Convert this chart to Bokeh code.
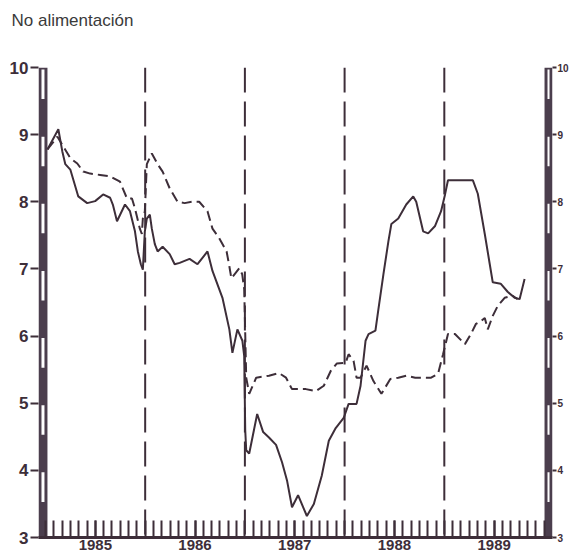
from bokeh.plotting import figure
from bokeh.models import Range1d, FixedTicker, LinearAxis, Span, Title
from bokeh.embed import file_html
from bokeh.resources import INLINE

# ---------------- data ----------------
titulo = "No alimentación"
anios = ["1985", "1986", "1987", "1988", "1989"]
y_ticks = [3, 4, 5, 6, 7, 8, 9, 10]

# month index counted from January 1985
mes_solida = [0.24, 1.55, 2.03, 2.39, 2.99, 3.95, 5.02, 5.98, 6.94, 7.78, 8.13, 8.61,
              9.57, 10.17, 10.77, 11.12, 11.48, 11.72, 11.96, 12.2, 12.56, 12.8, 13.16,
              13.5, 14.1, 14.95, 15.55, 16.15, 17.34, 18.3, 19.5, 20.1, 21.3, 22.13,
              22.5, 23.1, 23.7, 23.92, 24.04, 24.16, 24.52, 25.48, 26.2, 26.9, 27.75,
              28.47, 29.07, 29.67, 30.4, 31.46, 32.3, 33.25, 34.1, 34.93, 35.89, 36.48,
              37.44, 37.92, 38.52, 38.88, 39.71, 40.07, 40.67, 41.27, 41.63, 42.46,
              43.42, 44.26, 44.62, 45.45, 46.05, 46.89, 47.61, 48.09, 48.44, 51.44,
              52.03, 52.87, 53.47, 53.83, 54.78, 55.62, 56.46, 57.06, 57.66]
valor_solida = [8.78, 9.08, 8.75, 8.56, 8.48, 8.08, 7.98, 8.01, 8.11, 8.06, 7.95, 7.71,
                7.96, 7.86, 7.56, 7.26, 7.07, 6.99, 7.56, 7.75, 7.81, 7.6, 7.37,
                7.26, 7.33, 7.22, 7.07, 7.09, 7.15, 7.07, 7.26, 6.97, 6.57, 6.1,
                5.75, 6.1, 5.93, 5.7, 4.6, 4.3, 4.25, 4.84, 4.57, 4.49, 4.38,
                4.12, 3.85, 3.45, 3.63, 3.32, 3.5, 3.92, 4.44, 4.63, 4.78, 4.99,
                4.99, 5.26, 5.93, 6.03, 6.08, 6.4, 6.92, 7.41, 7.67, 7.75,
                7.96, 8.08, 8.0, 7.56, 7.53, 7.64, 7.86, 8.11, 8.32, 8.32,
                8.12, 7.52, 7.07, 6.8, 6.78, 6.66, 6.57, 6.55, 6.85]

mes_discontinua = [0.24, 1.44, 2.99, 3.83, 4.55, 5.38, 6.58, 7.78, 8.97, 9.81, 10.41,
                   10.77, 11.36, 11.6, 11.72, 11.96, 12.2, 12.8, 13.5, 14.1, 14.95,
                   15.9, 16.75, 17.6, 18.5, 19.5, 20.1, 20.9, 21.8, 22.13, 22.37,
                   23.33, 23.68, 23.92, 24.16, 24.52, 25.36, 26.9, 28.1, 28.95, 29.67,
                   31.34, 32.54, 33.5, 34.33, 35.05, 36.12, 36.48, 37.08, 37.44, 37.92,
                   38.64, 39.47, 40.43, 41.5, 42.46, 43.42, 44.5, 46.41, 47.25, 47.85,
                   48.44, 49.28, 50.48, 51.2, 51.8, 52.39, 52.87, 53.23, 53.83, 54.43,
                   55.26, 56.22, 56.82]
valor_discontinua = [8.78, 8.97, 8.65, 8.57, 8.45, 8.42, 8.4, 8.38, 8.3, 8.05, 8.05,
                     7.9, 7.6, 7.52, 7.75, 7.86, 8.56, 8.72, 8.56, 8.45, 8.2,
                     8.0, 7.98, 8.0, 8.0, 7.86, 7.6, 7.46, 7.26, 7.04, 6.86,
                     7.01, 6.92, 6.7, 5.38, 5.14, 5.38, 5.41, 5.45, 5.38, 5.21,
                     5.21, 5.18, 5.26, 5.48, 5.59, 5.6, 5.73, 5.63, 5.38, 5.38,
                     5.56, 5.33, 5.14, 5.36, 5.38, 5.41, 5.38, 5.38, 5.44, 5.73,
                     6.03, 6.03, 5.88, 6.03, 6.18, 6.22, 6.27, 6.1, 6.3, 6.45,
                     6.57, 6.6, 6.55]

# ---------------- layout / style ----------------
W, H = 571, 557
PX_MES = 8.358          # pixels per month
LINEA = "#3d2e39"
BARRA = "#4b3e4d"
NUM_FONT = "Liberation Sans"

FR_L, FR_T = 38, 67     # frame position on the canvas
FR_W, FR_H = 517, 470   # frame size (both ruler bars included)
PX_UNI = FR_H / (y_ticks[-1] - y_ticks[0])
x0 = -7 / PX_MES
x1 = x0 + FR_W / PX_MES
meses_total = 12 * len(anios)

p = figure(width=W, height=H, output_backend="svg", toolbar_location=None,
           x_range=Range1d(x0, x1), y_range=Range1d(y_ticks[0], y_ticks[-1]),
           min_border_left=FR_L, min_border_right=W - FR_L - FR_W,
           min_border_top=FR_T, min_border_bottom=H - FR_T - FR_H,
           background_fill_color="white", border_fill_color="white")
p.outline_line_color = None
p.grid.visible = False

# title: blank extra lines lift it well above the frame
p.add_layout(Title(text=titulo + "\n\u00a0\n\u00a0", align="left", offset=-27,
                   text_font="Liberation Sans", text_font_style="normal",
                   text_font_size="17px", text_color="#3a3a3a",
                   text_line_height=0.85), "above")

# ruler bars on both sides
bar_l_left, bar_l_right = x0, 0.24
bar_r_left, bar_r_right = meses_total + 0.06, x1
ins_x = 3 / PX_MES
ins_y = 2 / PX_UNI
for bl, br in [(bar_l_left, bar_l_right), (bar_r_left, bar_r_right)]:
    p.quad(left=[bl], right=[br], bottom=[y_ticks[0]], top=[y_ticks[-1]],
           fill_color=BARRA, line_color=None)
    tops = [k - ins_y for k in y_ticks[1:]]
    bots = [k - 0.5 + ins_y for k in y_ticks[1:]]
    p.quad(left=[bl + ins_x] * len(tops), right=[br - ins_x] * len(tops),
           bottom=bots, top=tops, fill_color="white", line_color=None)

# year separators
for i in range(1, len(anios)):
    p.add_layout(Span(location=12 * i, dimension="height", line_color=LINEA,
                      line_width=2, line_dash="25 9"))

# series
p.line(mes_discontinua, valor_discontinua, line_color=LINEA, line_width=2,
       line_dash="10 5")
p.line(mes_solida, valor_solida, line_color=LINEA, line_width=2)

# left axis
ya = p.yaxis[0]
ya.ticker = FixedTicker(ticks=y_ticks, minor_ticks=[])
ya.axis_line_color = None
ya.major_tick_in = 0
ya.major_tick_out = 8
ya.major_tick_line_width = 2
ya.major_tick_line_color = LINEA
ya.major_label_standoff = 2
ya.major_label_text_font = NUM_FONT
ya.major_label_text_font_style = "bold"
ya.major_label_text_font_size = "17px"
ya.major_label_text_color = LINEA

# right axis
ra = LinearAxis(ticker=FixedTicker(ticks=y_ticks, minor_ticks=[]))
ra.axis_line_color = None
ra.major_tick_in = 0
ra.major_tick_out = 4
ra.major_tick_line_width = 2
ra.major_tick_line_color = LINEA
ra.major_label_standoff = 1
ra.major_label_text_font = NUM_FONT
ra.major_label_text_font_style = "bold"
ra.major_label_text_font_size = "10px"
ra.major_label_text_color = LINEA
p.add_layout(ra, "right")

# bottom axis: year names centred in each year, a tick for every month
mitad = [12 * i + 6 for i in range(len(anios))]
xa = p.xaxis[0]
xa.ticker = FixedTicker(ticks=mitad, minor_ticks=list(range(0, meses_total + 1)))
xa.major_label_overrides = {m: a for m, a in zip(mitad, anios)}
xa.axis_line_width = 3
xa.axis_line_color = LINEA
xa.major_tick_in = 17
xa.major_tick_out = 0
xa.major_tick_line_width = 2
xa.major_tick_line_color = LINEA
xa.minor_tick_in = 17
xa.minor_tick_out = 0
xa.minor_tick_line_width = 2
xa.minor_tick_line_color = LINEA
xa.major_label_standoff = 2
xa.major_label_text_font = NUM_FONT
xa.major_label_text_font_style = "bold"
xa.major_label_text_font_size = "15px"
xa.major_label_text_color = LINEA

open("out.html", "w").write(file_html(p, INLINE))
